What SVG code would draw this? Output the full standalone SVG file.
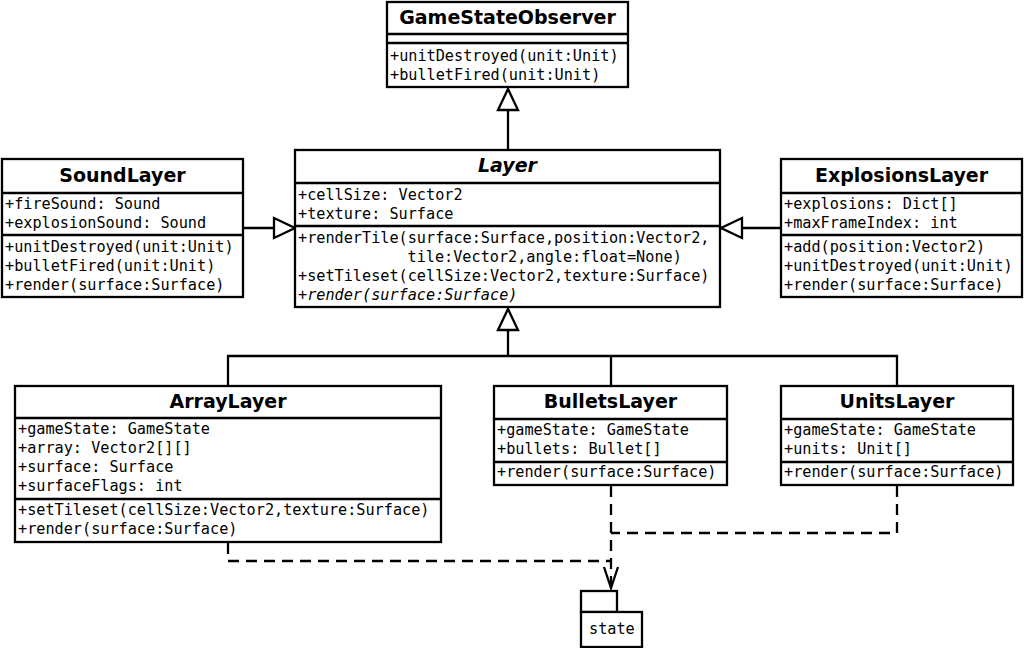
<svg xmlns="http://www.w3.org/2000/svg" width="1024" height="648" viewBox="0 0 1024 648">
<style>
.box{fill:#fff;stroke:#000;stroke-width:2.3}
.div{stroke:#000;stroke-width:2.3}
.title{font-family:"DejaVu Sans","Liberation Sans",sans-serif;font-weight:bold;font-size:19px;text-anchor:middle;fill:#000}
.m{font-family:"DejaVu Sans Mono","Liberation Mono",monospace;font-size:15.2px;fill:#000}
.it{font-style:italic}
.ln{fill:none;stroke:#000;stroke-width:2.3}
.dash{fill:none;stroke:#000;stroke-width:2.3;stroke-dasharray:11 7}
</style>
<defs>
<marker id="tri" markerUnits="userSpaceOnUse" markerWidth="26" markerHeight="26" viewBox="-2 -2 26 25" refX="21" refY="10" orient="auto">
<path d="M0,0 L21,10 L0,20 Z" fill="#fff" stroke="#000" stroke-width="2.3" stroke-dasharray="none"/>
</marker>
<marker id="open" markerUnits="userSpaceOnUse" markerWidth="26" markerHeight="20" viewBox="-2 -2 26 20" refX="21" refY="7" orient="auto">
<path d="M0,0 L21,7 L0,14" fill="none" stroke="#000" stroke-width="2.3" stroke-dasharray="none"/>
</marker>
</defs>
<rect width="1024" height="648" fill="#fff"/>
<g id="connectors">
<path class="ln" d="M508,150 L508,89" marker-end="url(#tri)"/>
<path class="ln" d="M243,228 L295,228" marker-end="url(#tri)"/>
<path class="ln" d="M781,228 L721,228" marker-end="url(#tri)"/>
<path class="ln" d="M228,386 L228,356 L897,356 L897,386"/>
<path class="ln" d="M611,356 L611,386"/>
<path class="ln" d="M508,356 L508,309" marker-end="url(#tri)"/>
<path class="dash" d="M611,486 L611,588" marker-end="url(#open)"/>
<path class="dash" d="M897,486 L897,533 L611,533"/>
<path class="dash" d="M228,543 L228,561 L611,561"/>
</g>
<g id="GameStateObserver">
<rect class="box" x="387" y="2" width="241" height="85"/>
<line class="div" x1="387" y1="34" x2="628" y2="34"/>
<line class="div" x1="387" y1="43" x2="628" y2="43"/>
<text class="title" x="507.5" y="24">GameStateObserver</text>
<text class="m" x="390" y="60.5">+unitDestroyed(unit:Unit)</text>
<text class="m" x="390" y="79.5">+bulletFired(unit:Unit)</text>
</g>
<g id="Layer">
<rect class="box" x="295" y="150" width="425" height="157"/>
<line class="div" x1="295" y1="183" x2="720" y2="183"/>
<line class="div" x1="295" y1="226" x2="720" y2="226"/>
<text class="title" x="507.5" y="172" font-style="italic">Layer</text>
<text class="m" x="298" y="199.5">+cellSize: Vector2</text>
<text class="m" x="298" y="218.5">+texture: Surface</text>
<text class="m" x="298" y="243">+renderTile(surface:Surface,position:Vector2,</text>
<text class="m" x="407.5" y="262">tile:Vector2,angle:float=None)</text>
<text class="m" x="298" y="281">+setTileset(cellSize:Vector2,texture:Surface)</text>
<text class="m it" x="298" y="300">+render(surface:Surface)</text>
</g>
<g id="SoundLayer">
<rect class="box" x="2" y="159" width="241" height="138"/>
<line class="div" x1="2" y1="193" x2="243" y2="193"/>
<line class="div" x1="2" y1="235" x2="243" y2="235"/>
<text class="title" x="122.5" y="182">SoundLayer</text>
<text class="m" x="5" y="209">+fireSound: Sound</text>
<text class="m" x="5" y="228">+explosionSound: Sound</text>
<text class="m" x="5" y="252">+unitDestroyed(unit:Unit)</text>
<text class="m" x="5" y="271">+bulletFired(unit:Unit)</text>
<text class="m" x="5" y="290">+render(surface:Surface)</text>
</g>
<g id="ExplosionsLayer">
<rect class="box" x="781" y="159" width="241" height="138"/>
<line class="div" x1="781" y1="193" x2="1022" y2="193"/>
<line class="div" x1="781" y1="235" x2="1022" y2="235"/>
<text class="title" x="901.5" y="182">ExplosionsLayer</text>
<text class="m" x="784" y="209">+explosions: Dict[]</text>
<text class="m" x="784" y="228">+maxFrameIndex: int</text>
<text class="m" x="784" y="252">+add(position:Vector2)</text>
<text class="m" x="784" y="271">+unitDestroyed(unit:Unit)</text>
<text class="m" x="784" y="290">+render(surface:Surface)</text>
</g>
<g id="ArrayLayer">
<rect class="box" x="15" y="386" width="426" height="156"/>
<line class="div" x1="15" y1="418" x2="441" y2="418"/>
<line class="div" x1="15" y1="499" x2="441" y2="499"/>
<text class="title" x="228" y="408">ArrayLayer</text>
<text class="m" x="18" y="434">+gameState: GameState</text>
<text class="m" x="18" y="453">+array: Vector2[][]</text>
<text class="m" x="18" y="472">+surface: Surface</text>
<text class="m" x="18" y="491">+surfaceFlags: int</text>
<text class="m" x="18" y="515">+setTileset(cellSize:Vector2,texture:Surface)</text>
<text class="m" x="18" y="534">+render(surface:Surface)</text>
</g>
<g id="BulletsLayer">
<rect class="box" x="494" y="386" width="233" height="99"/>
<line class="div" x1="494" y1="419" x2="727" y2="419"/>
<line class="div" x1="494" y1="462" x2="727" y2="462"/>
<text class="title" x="610.5" y="408">BulletsLayer</text>
<text class="m" x="497" y="435">+gameState: GameState</text>
<text class="m" x="497" y="454">+bullets: Bullet[]</text>
<text class="m" x="497" y="477">+render(surface:Surface)</text>
</g>
<g id="UnitsLayer">
<rect class="box" x="781" y="386" width="232" height="99"/>
<line class="div" x1="781" y1="419" x2="1013" y2="419"/>
<line class="div" x1="781" y1="462" x2="1013" y2="462"/>
<text class="title" x="897" y="408">UnitsLayer</text>
<text class="m" x="784" y="435">+gameState: GameState</text>
<text class="m" x="784" y="454">+units: Unit[]</text>
<text class="m" x="784" y="477">+render(surface:Surface)</text>
</g>
<g id="state">
<rect class="box" x="581" y="591" width="36" height="21"/>
<rect class="box" x="581" y="612" width="61" height="35"/>
<text class="m" x="589" y="634">state</text>
</g>
</svg>
